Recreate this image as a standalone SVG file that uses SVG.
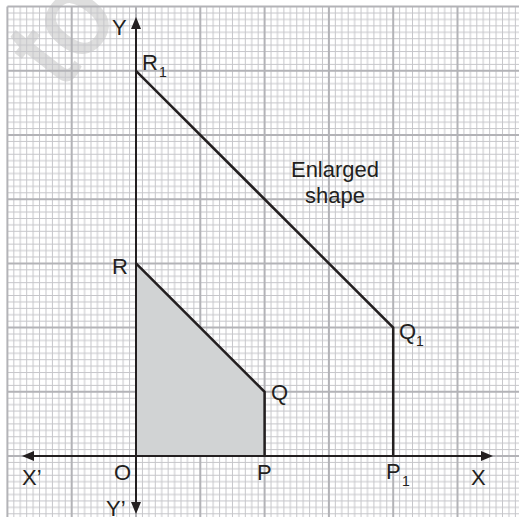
<svg xmlns="http://www.w3.org/2000/svg" width="519" height="517" viewBox="0 0 519 517">
<style>
.lbl{font-family:"Liberation Sans",Arial,sans-serif;font-size:22px;fill:#231f20}
.sub{font-family:"Liberation Sans",Arial,sans-serif;font-size:14px;fill:#231f20}
.minor{stroke:#c6c6ca;stroke-width:1;fill:none}
.major{stroke:#b3b3b7;stroke-width:2;fill:none}
.axis{stroke:#231f20;stroke-width:2;fill:none}
.edge{stroke:#231f20;stroke-width:2.5;fill:none;stroke-linejoin:miter}
</style>
<defs>
<pattern id="minorGrid" patternUnits="userSpaceOnUse" x="7.4" y="6.6" width="64.3" height="64.2">
<path class="minor" d="M6.43 0V64.2M12.86 0V64.2M19.29 0V64.2M25.72 0V64.2M32.15 0V64.2M38.58 0V64.2M45.01 0V64.2M51.44 0V64.2M57.87 0V64.2M0 6.42H64.3M0 12.84H64.3M0 19.26H64.3M0 25.68H64.3M0 32.1H64.3M0 38.52H64.3M0 44.94H64.3M0 51.36H64.3M0 57.78H64.3"/>
</pattern>
<marker id="arr" viewBox="0 0 12 10" refX="0" refY="5" markerWidth="12" markerHeight="10" markerUnits="userSpaceOnUse" orient="auto">
<path d="M0 0L12 5L0 10Z" fill="#231f20"/>
</marker>
</defs>
<rect width="519" height="517" fill="#ffffff"/>
<text x="62" y="91" transform="rotate(-52 62 91)" font-family="Liberation Sans,Arial,sans-serif" font-size="113" fill="#dedede" stroke="#dedede" stroke-width="2">to</text>
<g id="grid">
<rect x="7.4" y="6.6" width="512" height="511" fill="url(#minorGrid)"/>
<path class="major" d="M7.4 6.6V517M71.7 6.6V517M136 6.6V517M200.3 6.6V517M264.6 6.6V517M328.9 6.6V517M393.2 6.6V517M457.5 6.6V517M7.4 6.6H519M7.4 70.8H519M7.4 135H519M7.4 199.2H519M7.4 263.4H519M7.4 327.6H519M7.4 391.8H519M7.4 456H519"/>
</g>
<g id="small-shape">
<path d="M136 456H264.6V391.8L136 263.4Z" fill="#d1d3d4" stroke="none"/>
<path class="edge" d="M264.6 456V391.8L136 263.4"/>
</g>
<g id="enlarged-shape">
<path class="edge" d="M136 70.8L393.2 327.6V456"/>
</g>
<g id="connectors">
<line class="axis" x1="136" y1="456" x2="481" y2="456" marker-end="url(#arr)"/>
<line class="axis" x1="136" y1="456" x2="34" y2="456" marker-end="url(#arr)"/>
<line class="axis" x1="136" y1="456" x2="136" y2="29" marker-end="url(#arr)"/>
<line class="axis" x1="136" y1="456" x2="136" y2="502" marker-end="url(#arr)"/>
</g>
<g id="labels">
<text class="lbl" x="112" y="35">Y</text>
<text class="lbl" x="142" y="70">R</text><text class="sub" x="159" y="77">1</text>
<text class="lbl" x="335" y="177" text-anchor="middle">Enlarged</text>
<text class="lbl" x="335" y="203" text-anchor="middle">shape</text>
<text class="lbl" x="112" y="274">R</text>
<text class="lbl" x="271" y="400">Q</text>
<text class="lbl" x="399" y="339">Q</text><text class="sub" x="416" y="346">1</text>
<text class="lbl" x="114" y="480">O</text>
<text class="lbl" x="257" y="480">P</text>
<text class="lbl" x="386" y="479">P</text><text class="sub" x="402" y="486">1</text>
<text class="lbl" x="471" y="485">X</text>
<text class="lbl" x="22" y="485">X’</text>
<text class="lbl" x="106" y="516">Y’</text>
</g>
</svg>
